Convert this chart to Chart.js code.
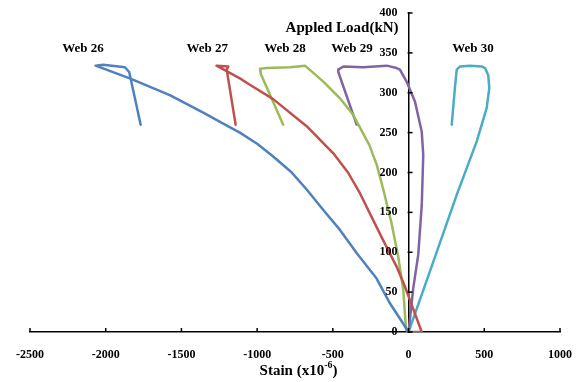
<!DOCTYPE html>
<html>
<head>
<meta charset="utf-8">
<script src="https://cdn.jsdelivr.net/npm/chart.js@4/dist/chart.umd.min.js"></script>
<style>
html,body{margin:0;padding:0;background:#fff;}
#wrap{width:579px;height:382px;position:relative;}
</style>
</head>
<body>
<div id="wrap"><canvas id="c" width="579" height="382"></canvas></div>
<script>
// ---- data (strain x10^-6, load kN) ----
const seriesNames = ['Web 26', 'Web 27', 'Web 28', 'Web 29', 'Web 30'];
const seriesColors = ['#4F81BD', '#C0504D', '#9BBB59', '#8064A2', '#4BACC6'];

const web26X = [0, -123, -211, -343, -453, -563, -670, -777, -900, -1000, -1114, -1230, -1356, -1577, -1841, -2067, -2018, -1873, -1845, -1769];
const web26Y = [0, 36, 67, 99, 128, 153, 178, 201, 221, 236, 250, 262, 275, 297, 318, 334, 335, 332, 326, 260];

const web27X = [0, 87, 9, -24, -79, -160, -233, -321, -400, -497, -673, -894, -1048, -1114, -1268, -1191, -1201, -1142];
const web27Y = [0, 0, 40, 57, 82, 112, 140, 174, 200, 224, 258, 292, 310, 318, 334, 333, 329, 260];

const web28X = [0, -17, -35, -68, -112, -166, -209, -258, -365, -453, -563, -684, -783, -937, -981, -977, -828];
const web28Y = [0, 3, 53, 94, 136, 178, 209, 234, 272, 293, 314, 334, 332, 331, 330, 324, 260];

const web29X = [0, 31, 64, 87, 97, 87, 42, -13, -57, -79, -145, -300, -431, -464, -464, -343];
const web29Y = [0, 55, 97, 159, 222, 251, 289, 314, 329, 331, 334, 332, 333, 329, 326, 260];

const web30X = [0, 163, 318, 450, 516, 533, 526, 505, 483, 406, 340, 318, 306, 285];
const web30Y = [0, 88, 172, 239, 281, 306, 322, 331, 333, 334, 333, 329, 306, 260];

const xTicks = [-2500, -2000, -1500, -1000, -500, 0, 500, 1000];
const yTicks = [0, 50, 100, 150, 200, 250, 300, 350, 400];

const allX = [web26X, web27X, web28X, web29X, web30X];
const allY = [web26Y, web27Y, web28Y, web29Y, web30Y];

const datasets = seriesNames.map((name, i) => ({
  label: name,
  data: allX[i].map((x, j) => ({x: x, y: allY[i][j]})),
  borderColor: seriesColors[i],
  backgroundColor: seriesColors[i],
  borderWidth: 2.5,
  showLine: true,
  pointRadius: 0,
  tension: 0,
  borderJoinStyle: 'round',
  borderCapStyle: 'round',
  fill: false
}));

const FONT = "'Liberation Serif', 'Times New Roman', serif";

const extras = {
  id: 'extras',
  afterDraw(chart, args, opts) {
    const ctx = chart.ctx;
    const xs = chart.scales.x, ys = chart.scales.y;
    ctx.save();
    // inward tick marks
    ctx.strokeStyle = '#000';
    ctx.lineWidth = 1.5;
    const xAxisY = ys.getPixelForValue(0);
    xTicks.forEach(v => {
      const px = xs.getPixelForValue(v);
      ctx.beginPath(); ctx.moveTo(px, xAxisY - 4); ctx.lineTo(px, xAxisY); ctx.stroke();
    });
    const yAxisX = xs.getPixelForValue(0);
    yTicks.forEach(v => {
      const py = ys.getPixelForValue(v);
      ctx.beginPath(); ctx.moveTo(yAxisX - 1, py); ctx.lineTo(yAxisX + 4, py); ctx.stroke();
    });
    ctx.fillStyle = '#000';
    ctx.textBaseline = 'middle';
    // y tick labels (on top of curves)
    ctx.font = 'bold 12px ' + FONT;
    ctx.textAlign = 'right';
    yTicks.forEach(v => {
      ctx.fillText(String(v), yAxisX - 11, ys.getPixelForValue(v));
    });
    // series labels
    ctx.font = 'bold 13px ' + FONT;
    ctx.textAlign = 'center';
    opts.labels.forEach((l, i) => {
      ctx.fillText(seriesNames[i], xs.getPixelForValue(l[0]), ys.getPixelForValue(l[1]));
    });
    // y title
    ctx.font = 'bold 15px ' + FONT;
    ctx.textAlign = 'right';
    ctx.fillText('Appled Load(kN)', yAxisX - 10, ys.getPixelForValue(400) + 15);
    // x title with superscript
    const main = 'Stain (x10', sup = '-6', end = ')';
    ctx.font = 'bold 15px ' + FONT;
    const w1 = ctx.measureText(main).width, w3 = ctx.measureText(end).width;
    ctx.font = 'bold 10px ' + FONT;
    const w2 = ctx.measureText(sup).width;
    const total = w1 + w2 + w3;
    let x0 = 298.5 - total / 2;
    const yb = 371;
    ctx.textAlign = 'left';
    ctx.font = 'bold 15px ' + FONT;
    ctx.fillText(main, x0, yb);
    ctx.font = 'bold 10px ' + FONT;
    ctx.fillText(sup, x0 + w1, yb - 6);
    ctx.font = 'bold 15px ' + FONT;
    ctx.fillText(end, x0 + w1 + w2, yb);
    ctx.restore();
  }
};

new Chart(document.getElementById('c'), {
  type: 'scatter',
  data: {datasets},
  options: {
    responsive: false,
    animation: false,
    layout: {padding: {left: 30, right: 19, top: 13, bottom: 0}},
    plugins: {
      legend: {display: false},
      tooltip: {enabled: false},
      extras: {labels: [[-2150, 355], [-1330, 355], [-816, 355], [-374, 355], [425, 355]]}
    },
    scales: {
      x: {
        type: 'linear', min: -2500, max: 1000,
        afterBuildTicks: s => { s.ticks = xTicks.map(v => ({value: v})); },
        afterFit: s => { s.height = 50; s.paddingLeft = 0; s.paddingRight = 0; },
        grid: {display: true, drawOnChartArea: false, drawTicks: false},
        border: {display: true, color: '#000', width: 1.5},
        ticks: {color: '#000', padding: 16, maxRotation: 0, autoSkip: false,
                callback: v => String(v),
                font: {family: FONT, size: 12, weight: 'bold'}}
      },
      y: {
        type: 'linear', min: 0, max: 400,
        position: {x: 0},
        afterBuildTicks: s => { s.ticks = yTicks.map(v => ({value: v})); },
        afterFit: s => { s.width = 0; s.paddingTop = 0; s.paddingBottom = 0; },
        grid: {display: true, drawOnChartArea: false, drawTicks: false},
        border: {display: true, color: '#000', width: 1.5},
        ticks: {display: false}
      }
    }
  },
  plugins: [extras]
});
</script>
</body>
</html>
